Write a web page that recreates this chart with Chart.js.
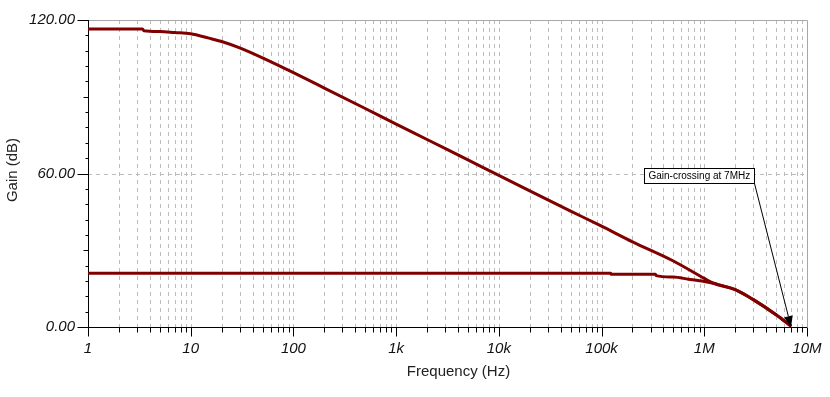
<!DOCTYPE html>
<html>
<head>
<meta charset="utf-8">
<script src="https://cdn.jsdelivr.net/npm/chart.js@4/dist/chart.umd.min.js"></script>
<style>
  html, body { margin: 0; padding: 0; background: #fff; }
  #wrap { width: 830px; height: 397px; }
</style>
</head>
<body>
<div id="wrap"><canvas id="chart"></canvas></div>
<script>
// open-loop gain
const openFreqs = [1, 2, 3.4, 3.5, 5, 7, 10, 15, 20, 30, 50, 100, 200, 500, 1e3, 2e3, 5e3, 1e4, 2e4, 5e4, 1e5, 2e5, 5e5, 1e6, 1.25e6, 2e6, 3e6, 5e6, 7e6]
const openGain = [116.5, 116.5, 116.5, 115.8, 115.5, 115.1, 114.6, 112.9, 111.6, 109.1, 105.2, 99.4, 93.4, 85.4, 79.3, 73.3, 65.3, 59.3, 53.2, 45.3, 39.4, 33.3, 25.8, 19.0, 17.0, 14.6, 10.7, 4.8, 0.3]

// closed-loop gain
const closedFreqs = [1, 1.23e5, 1.24e5, 3.35e5, 3.4e5, 5e5, 7e5, 1e6, 1.25e6, 2e6, 3e6, 5e6, 7e6]
const closedGain = [21.0, 21.0, 20.6, 20.6, 20.1, 19.5, 18.7, 17.8, 17.0, 14.6, 10.7, 4.8, 0.3]

const xTickValues = [1, 10, 100, 1e3, 1e4, 1e5, 1e6, 1e7]
const xTickLabels = ["1", "10", "100", "1k", "10k", "100k", "1M", "10M"]
const yTickValues = [0, 60, 120]
const yTickLabels = ["0.00", "60.00", "120.00"]

const noteText = "Gain-crossing at 7MHz"
const noteFreq = 2.59e5
const noteGain = 59
const crossFreq = 7e6
const crossGain = 0

const LINE = "#800000"
const GRID = "#bcbcbc"

const toPoints = (xs, ys) => xs.map((x, i) => ({ x: x, y: ys[i] }))

const framePlugin = {
  id: "frame",
  beforeDatasetsDraw(chart) {
    const ctx = chart.ctx
    const a = chart.chartArea
    const sx = chart.scales.x
    const sy = chart.scales.y
    ctx.save()
    ctx.lineWidth = 1
    ctx.strokeStyle = GRID
    ctx.setLineDash([4, 4])
    // vertical dashed grid at every 1..9 x decade
    for (let d = 0; d < 7; d++) {
      for (let m = 1; m <= 9; m++) {
        const v = m * Math.pow(10, d)
        if (v === 1) continue
        const px = Math.round(sx.getPixelForValue(v)) + 0.5
        ctx.beginPath(); ctx.moveTo(px, a.top); ctx.lineTo(px, a.bottom); ctx.stroke()
      }
    }
    // horizontal dashed at 60
    const py60 = Math.round(sy.getPixelForValue(60)) + 0.5
    ctx.beginPath(); ctx.moveTo(a.left, py60); ctx.lineTo(a.right, py60); ctx.stroke()
    ctx.setLineDash([])
    // top and right border
    ctx.strokeStyle = "#a8a8a8"
    ctx.beginPath()
    ctx.moveTo(a.left, Math.round(a.top) + 0.5)
    ctx.lineTo(Math.round(a.right) + 0.5, Math.round(a.top) + 0.5)
    ctx.lineTo(Math.round(a.right) + 0.5, a.bottom)
    ctx.stroke()
    // black axes
    ctx.strokeStyle = "#000"
    const left = Math.round(a.left) + 0.5
    const bottom = Math.round(a.bottom) + 0.5
    ctx.beginPath()
    ctx.moveTo(left, a.top); ctx.lineTo(left, bottom); ctx.lineTo(a.right, bottom)
    ctx.stroke()
    // x tick marks
    for (let d = 0; d <= 7; d++) {
      for (let m = 1; m <= 9; m++) {
        const v = m * Math.pow(10, d)
        if (v > 1e7) break
        const px = Math.round(sx.getPixelForValue(v)) + 0.5
        const len = m === 1 ? 9 : 5
        ctx.beginPath(); ctx.moveTo(px, bottom); ctx.lineTo(px, bottom + len); ctx.stroke()
      }
    }
    // y tick marks every 6 dB
    for (let g = 0; g <= 120; g += 6) {
      const py = Math.round(sy.getPixelForValue(g)) + 0.5
      const len = g % 60 === 0 ? 11 : (g % 30 === 0 ? 5 : 3)
      ctx.beginPath(); ctx.moveTo(left - len, py); ctx.lineTo(left, py); ctx.stroke()
    }
    ctx.restore()
  },
  afterDraw(chart) {
    const ctx = chart.ctx
    const a = chart.chartArea
    const sx = chart.scales.x
    const sy = chart.scales.y
    ctx.save()
    // axis titles
    ctx.fillStyle = "#222"
    ctx.font = "15px 'Liberation Sans', Arial, sans-serif"
    ctx.textAlign = "center"
    ctx.textBaseline = "middle"
    ctx.fillText("Frequency (Hz)", (a.left + a.right) / 2 + 11, 372)
    ctx.translate(13, 170)
    ctx.rotate(-Math.PI / 2)
    ctx.fillText("Gain (dB)", 0, 0)
    ctx.restore()

    // annotation
    ctx.save()
    ctx.font = "10px 'Liberation Sans', Arial, sans-serif"
    const tw = ctx.measureText(noteText).width
    const bx = Math.round(sx.getPixelForValue(noteFreq)) + 0.5
    const by = Math.round(sy.getPixelForValue(noteGain)) - 7.5
    const bw = Math.round(tw + 8)
    const bh = 15
    ctx.fillStyle = "#fff"
    ctx.fillRect(bx, by, bw, bh)
    ctx.strokeStyle = "#000"
    ctx.lineWidth = 1
    ctx.strokeRect(bx, by, bw, bh)
    ctx.fillStyle = "#000"
    ctx.textBaseline = "middle"
    ctx.textAlign = "left"
    ctx.fillText(noteText, bx + 4, by + bh / 2 + 0.5)
    // arrow to crossing point
    const x0 = bx + bw, y0 = by + bh
    const x1 = sx.getPixelForValue(crossFreq), y1 = sy.getPixelForValue(crossGain)
    const ang = Math.atan2(y1 - y0, x1 - x0)
    const hl = 11, hw = 4.5
    const hx = x1 - hl * Math.cos(ang), hy = y1 - hl * Math.sin(ang)
    ctx.beginPath(); ctx.moveTo(x0, y0); ctx.lineTo(hx, hy); ctx.stroke()
    ctx.beginPath()
    ctx.moveTo(x1, y1)
    ctx.lineTo(hx + hw * Math.sin(ang), hy - hw * Math.cos(ang))
    ctx.lineTo(hx - hw * Math.sin(ang), hy + hw * Math.cos(ang))
    ctx.closePath()
    ctx.fill()
    ctx.restore()
  }
}

const tickFont = { family: "'Liberation Sans', Arial, sans-serif", size: 15, style: "italic" }
const lineStyle = {
  borderColor: LINE,
  borderWidth: 3,
  borderJoinStyle: "round",
  pointRadius: 0,
  cubicInterpolationMode: "monotone"
}

new Chart(document.getElementById("chart"), {
  type: "line",
  data: {
    datasets: [
      Object.assign({ data: toPoints(openFreqs, openGain) }, lineStyle),
      Object.assign({ data: toPoints(closedFreqs, closedGain) }, lineStyle)
    ]
  },
  options: {
    responsive: true,
    maintainAspectRatio: false,
    animation: false,
    layout: { padding: { top: 20, right: 23, left: 0, bottom: 0 } },
    plugins: { legend: { display: false }, tooltip: { enabled: false } },
    scales: {
      x: {
        type: "logarithmic",
        min: 1,
        max: 1e7,
        afterBuildTicks: s => { s.ticks = xTickValues.map(v => ({ value: v })) },
        afterFit: s => { s.height = 70; s.paddingLeft = 0; s.paddingRight = 0 },
        grid: { display: false, drawTicks: false },
        border: { display: false },
        ticks: {
          autoSkip: false,
          maxRotation: 0,
          padding: 13,
          color: "#111",
          font: tickFont,
          callback: (v, i) => xTickLabels[i]
        }
      },
      y: {
        type: "linear",
        min: 0,
        max: 120,
        afterBuildTicks: s => { s.ticks = yTickValues.map(v => ({ value: v })) },
        afterFit: s => { s.width = 88; s.paddingTop = 0; s.paddingBottom = 0 },
        grid: { display: false, drawTicks: false },
        border: { display: false },
        ticks: {
          padding: 13,
          color: "#111",
          font: tickFont,
          callback: (v, i) => yTickLabels[i]
        }
      }
    }
  },
  plugins: [framePlugin]
})
</script>
</body>
</html>
